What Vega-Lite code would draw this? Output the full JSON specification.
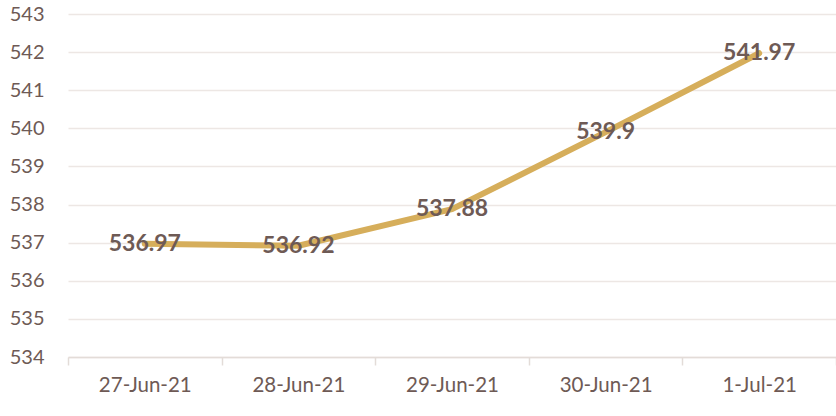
{
  "$schema": "https://vega.github.io/schema/vega-lite/v6.json",
  "width": 768,
  "height": 343,
  "autosize": {"type": "none"},
  "padding": {"left": 68, "top": 14, "right": 0, "bottom": 59},
  "background": "white",
  "config": {
    "view": {"stroke": null},
    "font": "Lato"
  },
  "data": {
    "values": [
      {"date": "27-Jun-21", "value": 536.97},
      {"date": "28-Jun-21", "value": 536.92},
      {"date": "29-Jun-21", "value": 537.88},
      {"date": "30-Jun-21", "value": 539.9},
      {"date": "1-Jul-21", "value": 541.97}
    ]
  },
  "encoding": {
    "x": {
      "field": "date",
      "type": "ordinal",
      "sort": null,
      "scale": {"type": "band", "paddingInner": 0, "paddingOuter": 0},
      "axis": {
        "title": null,
        "labelAngle": 0,
        "labelFontSize": 20.5,
        "labelColor": "#6E5A55",
        "labelFont": "Lato",
        "labelPadding": 10,
        "tickBand": "extent",
        "tickSize": 8,
        "tickColor": "#E3DCD8",
        "tickWidth": 1.5,
        "domainColor": "#E3DCD8",
        "domainWidth": 1.5,
        "grid": false
      }
    },
    "y": {
      "field": "value",
      "type": "quantitative",
      "scale": {"domain": [534, 543], "nice": false, "zero": false},
      "axis": {
        "title": null,
        "values": [534, 535, 536, 537, 538, 539, 540, 541, 542, 543],
        "labelFontSize": 20,
        "labelColor": "#6E5A55",
        "labelFont": "Lato",
        "labelPadding": 24,
        "ticks": false,
        "domain": false,
        "gridColor": "#EDE7E4",
        "gridWidth": 1.5
      }
    }
  },
  "layer": [
    {
      "mark": {"type": "line", "color": "#D6AE5B", "strokeWidth": 6, "strokeCap": "round", "strokeJoin": "round"}
    },
    {
      "mark": {"type": "text", "fontSize": 23, "fontWeight": "bold", "color": "#6E5A55", "font": "Lato", "baseline": "middle", "align": "center"},
      "encoding": {"text": {"field": "value", "type": "quantitative"}}
    }
  ]
}
